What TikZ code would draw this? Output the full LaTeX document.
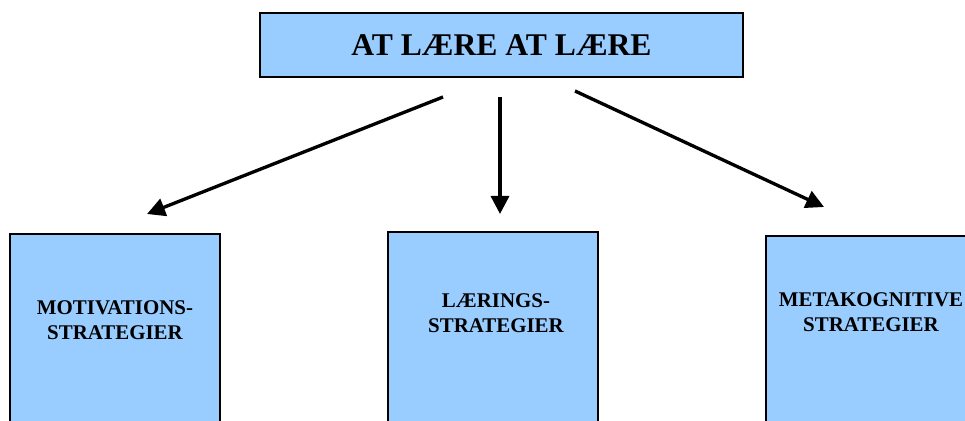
\documentclass[tikz,border=0pt]{standalone}
\usepackage{fontspec}
\setmainfont{Liberation Serif}
\usetikzlibrary{arrows.meta}
\definecolor{boxblue}{HTML}{99CCFF}
\tikzset{
    box/.style={draw, fill=boxblue, line width=0.9pt, rectangle},
    strat/.style={box, anchor=north, minimum width=4.2cm, minimum height=4.6cm},
    stext/.style={font=\bfseries\fontsize{11.9}{14.3}\selectfont, align=center, inner sep=0pt},
    pil/.style={draw, line width=1.9pt, -{Triangle[length=0.36cm, width=0.36cm]}}
}
\begin{document}
\begin{tikzpicture}[x=0.02cm, y=-0.02cm]
        \clip (0,0) rectangle (965,421);
        \useasboundingbox (0,0) rectangle (965,421);

        \node[box, minimum width=9.66cm, minimum height=1.28cm,
              font=\bfseries\fontsize{18}{21.6}\selectfont] (top) at (501.5,45) {AT LÆRE AT LÆRE};

        \node[strat] (mot) at (115,233) {};
        \node[strat] (lae) at (493,231) {};
        \node[strat] (met) at (871,235) {};

        \node[stext] (motT) at (115,320.5) {MOTIVATIONS-\\STRATEGIER};
        \node[stext] (laeT) at (496,313.5) {LÆRINGS-\\STRATEGIER};
        \node[stext] (metT) at (871,312.5) {METAKOGNITIVE\\STRATEGIER};

        \coordinate (s1) at (443,97);
        \coordinate (s2) at (500,97);
        \coordinate (s3) at (575,91);
        \coordinate (e1) at (147,214);
        \coordinate (e2) at (500,214);
        \coordinate (e3) at (824,207);

        \path[pil] (s1) -- (e1);
        \path[pil] (s2) -- (e2);
        \path[pil] (s3) -- (e3);
    \end{tikzpicture}
\end{document}
